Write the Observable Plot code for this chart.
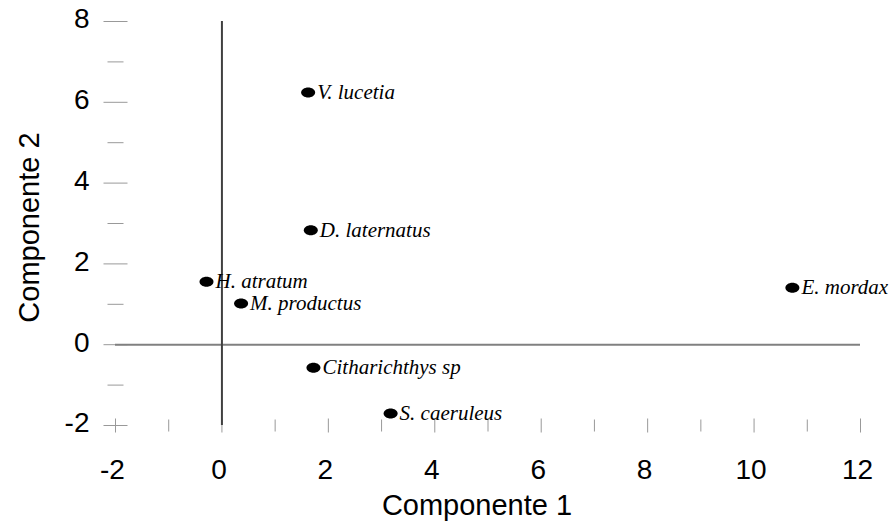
<!DOCTYPE html>
<html>
<head>
<meta charset="utf-8">
<script src="https://cdn.jsdelivr.net/npm/d3@7"></script>
<script src="https://cdn.jsdelivr.net/npm/@observablehq/plot@0.6"></script>
<style>
  html, body { margin: 0; padding: 0; background: #fff; }
  #chart { width: 896px; height: 529px; }
</style>
</head>
<body>
<div id="chart"></div>
<script>
// Data
const species = ["V. lucetia", "D. laternatus", "H. atratum", "M. productus", "Citharichthys sp", "S. caeruleus", "E. mordax"];
const comp1 = [1.62, 1.67, -0.29, 0.36, 1.72, 3.17, 10.72];
const comp2 = [6.24, 2.83, 1.56, 1.02, -0.57, -1.70, 1.41];
const xTicksMajor = [-2, 0, 2, 4, 6, 8, 10, 12];
const xTicksMinor = [-1, 1, 3, 5, 7, 9, 11];
const yTicksMajor = [-2, 0, 2, 4, 6, 8];
const yTicksMinor = [-1, 1, 3, 5, 7];
const xTitle = "Componente 1";
const yTitle = "Componente 2";

const points = species.map((s, i) => ({name: s, c1: comp1[i], c2: comp2[i]}));
const xMin = xTicksMajor[0], xMax = xTicksMajor[xTicksMajor.length - 1];
const yMin = yTicksMajor[0], yMax = yTicksMajor[yTicksMajor.length - 1];

// symbols
const ellipse = {
  draw(ctx, size) {
    const r = Math.sqrt(size / Math.PI);
    const rx = r * 1.4, ry = r;
    const k = 0.5523;
    ctx.moveTo(rx, 0);
    ctx.bezierCurveTo(rx, ry * k, rx * k, ry, 0, ry);
    ctx.bezierCurveTo(-rx * k, ry, -rx, ry * k, -rx, 0);
    ctx.bezierCurveTo(-rx, -ry * k, -rx * k, -ry, 0, -ry);
    ctx.bezierCurveTo(rx * k, -ry, rx, -ry * k, rx, 0);
    ctx.closePath();
  }
};
const hline = {
  draw(ctx, size) {
    const r = Math.sqrt(size / Math.PI);
    ctx.moveTo(-r, 0);
    ctx.lineTo(r, 0);
  }
};
const vline = {
  draw(ctx, size) {
    const r = Math.sqrt(size / Math.PI);
    ctx.moveTo(0, -r);
    ctx.lineTo(0, r);
  }
};

const tickColor = "#999";

const chart = Plot.plot({
  width: 896,
  height: 529,
  marginLeft: 115,
  marginRight: 36,
  marginTop: 21,
  marginBottom: 104,
  style: {fontFamily: "'Liberation Sans', Arial, sans-serif", background: "#fff", color: "#000"},
  x: {domain: [xMin, xMax], axis: null},
  y: {domain: [yMin, yMax], axis: null},
  marks: [
    // y ticks (crossing the y axis position)
    Plot.dot(yTicksMajor, {x: () => xMin, y: d => d, symbol: hline, r: 12, stroke: tickColor, strokeWidth: 1, fill: "none"}),
    Plot.dot(yTicksMinor, {x: () => xMin, y: d => d, symbol: hline, r: 8, stroke: tickColor, strokeWidth: 1, fill: "none"}),
    // x ticks (crossing the x axis position)
    Plot.dot(xTicksMajor, {x: d => d, y: () => yMin, symbol: vline, r: 7, stroke: tickColor, strokeWidth: 1, fill: "none"}),
    Plot.dot(xTicksMinor, {x: d => d, y: () => yMin, symbol: vline, r: 6, stroke: tickColor, strokeWidth: 1, fill: "none"}),
    // tick labels
    Plot.text(yTicksMajor, {x: () => xMin, y: d => d, text: d => String(d), textAnchor: "end", lineAnchor: "middle", dx: -26, dy: -2, fontSize: 28, fill: "#000"}),
    Plot.text(xTicksMajor, {x: d => d, y: () => yMin, text: d => String(d), textAnchor: "middle", lineAnchor: "top", dx: -3, dy: 34, fontSize: 28, fill: "#000"}),
    // reference lines at zero
    Plot.ruleY([0], {x1: xMin, x2: xMax, stroke: "#808080", strokeWidth: 2}),
    Plot.ruleX([0], {y1: yMin, y2: yMax, stroke: "#404040", strokeWidth: 2}),
    // points
    Plot.dot(points, {x: "c1", y: "c2", symbol: ellipse, r: 5, fill: "#000", stroke: "none"}),
    Plot.text(points, {x: "c1", y: "c2", text: "name", dx: 9, textAnchor: "start", lineAnchor: "middle",
      fontFamily: "'Liberation Serif', 'Times New Roman', serif", fontStyle: "italic", fontSize: 21, fill: "#000"}),
    // axis titles
    Plot.text([xTitle], {frameAnchor: "bottom", text: d => d, dy: 80, dx: -11, fontSize: 29, textAnchor: "middle", lineAnchor: "middle", fill: "#000"}),
    Plot.text([yTitle], {frameAnchor: "left", text: d => d, rotate: -90, dx: -86, dy: 4, fontSize: 29, textAnchor: "middle", lineAnchor: "middle", fill: "#000"})
  ]
});
document.getElementById("chart").appendChild(chart);
</script>
</body>
</html>
